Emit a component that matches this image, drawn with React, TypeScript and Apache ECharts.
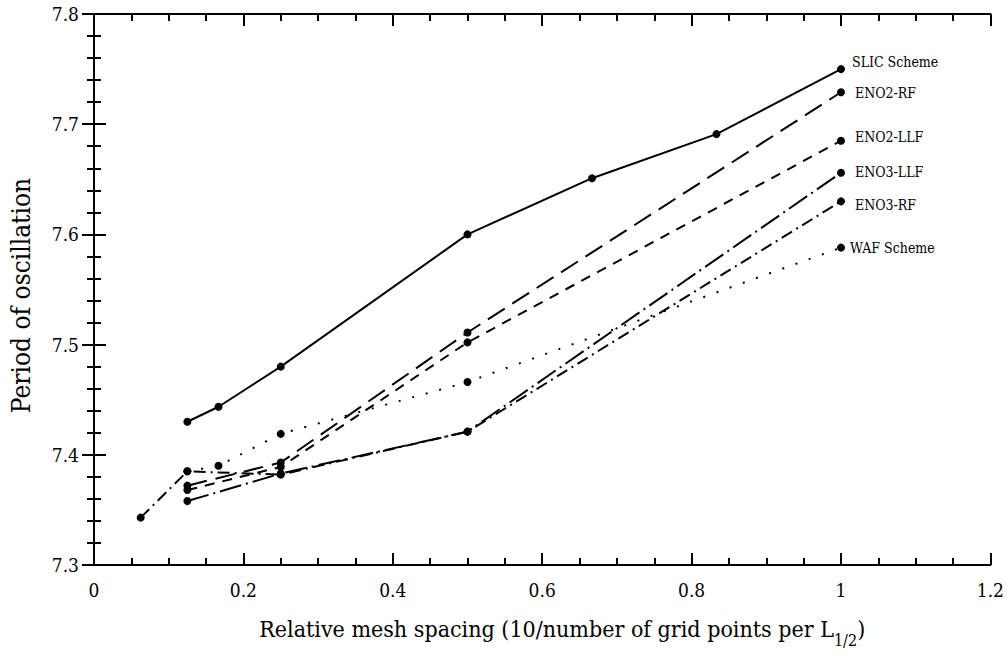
import React, { useEffect, useRef } from "react";
import * as echarts from "echarts";

const FONT = "DejaVu Serif Condensed, DejaVu Serif, serif";

const seriesNames = ["SLIC Scheme", "ENO2-RF", "ENO2-LLF", "ENO3-LLF", "ENO3-RF", "WAF Scheme"];

const slic: [number, number][] = [
  [0.125, 7.43], [0.1667, 7.4436], [0.25, 7.48], [0.5, 7.6], [0.6667, 7.651], [0.8333, 7.691], [1.0, 7.75],
];
const eno2rf: [number, number][] = [
  [0.125, 7.372], [0.25, 7.393], [0.5, 7.511], [1.0, 7.729],
];
const eno2llf: [number, number][] = [
  [0.125, 7.368], [0.25, 7.389], [0.5, 7.502], [1.0, 7.685],
];
const eno3llf: [number, number][] = [
  [0.125, 7.358], [0.25, 7.383], [0.5, 7.421], [1.0, 7.656],
];
const eno3rf: [number, number][] = [
  [0.0625, 7.343], [0.125, 7.385], [0.25, 7.382], [0.5, 7.421], [1.0, 7.63],
];
const waf: [number, number][] = [
  [0.125, 7.385], [0.1667, 7.39], [0.25, 7.419], [0.5, 7.466], [1.0, 7.588],
];

const seriesData = [slic, eno2rf, eno2llf, eno3llf, eno3rf, waf];
const dashes: any[] = ["solid", [20, 9], [10, 8], [22, 5, 2, 5], [12, 5, 2, 5], [2, 12]];
const labelOffsets: [number, number][] = [[0, -7], [3, 1], [3, -4], [3, -1], [3, 4], [-2, 0]];

const xTicks = [0, 1.2, 0.2];
const yTicks = [7.3, 7.8, 0.1];

export default function App() {
  const ref = useRef<HTMLDivElement>(null);
  useEffect(() => {
    const chart = echarts.init(ref.current!, null, { renderer: "svg" });
    const axisLine = { show: true, lineStyle: { color: "#000", width: 2 } };
    const tick = { show: true, inside: true, length: 12, lineStyle: { color: "#000", width: 2 } };
    const minorTick = { show: true, splitNumber: 4, length: 7, lineStyle: { color: "#000", width: 2 } };
    const minorTickY = { ...minorTick, splitNumber: 5 };
    const label = { color: "#000", fontFamily: FONT, fontSize: 19 };
    chart.setOption({
      animation: false,
      backgroundColor: "#fff",
      textStyle: { fontFamily: FONT },
      grid: { left: 92, right: 14, top: 14, bottom: 93, containLabel: false },
      xAxis: [
        {
          type: "value",
          min: xTicks[0], max: xTicks[1], interval: xTicks[2],
          axisLine, axisTick: tick, minorTick,
          splitLine: { show: false },
          axisLabel: { ...label, margin: 15 },
          name: "{a|Relative mesh spacing (10/number of grid points per L}{b|1/2}{a|)}",
          nameLocation: "middle",
          nameGap: 45,
          nameTextStyle: {
            fontFamily: FONT,
            padding: [0, 0, 0, 40],
            rich: {
              a: { fontFamily: FONT, fontSize: 23, color: "#000" },
              b: { fontFamily: FONT, fontSize: 16, color: "#000", padding: [22, 0, 0, 0] },
            },
          },
        },
        {
          type: "value", position: "top",
          min: xTicks[0], max: xTicks[1], interval: xTicks[2],
          axisLine, axisTick: tick, minorTick,
          splitLine: { show: false }, axisLabel: { show: false },
        },
      ],
      yAxis: [
        {
          type: "value",
          min: yTicks[0], max: yTicks[1], interval: yTicks[2],
          axisLine, axisTick: tick, minorTick: minorTickY,
          splitLine: { show: false },
          axisLabel: { ...label, margin: 15, formatter: (v: number) => String(Math.round(v * 10) / 10) },
          name: "Period of oscillation",
          nameLocation: "middle",
          nameGap: 60,
          nameTextStyle: { fontFamily: FONT, fontSize: 26, color: "#000", padding: [0, 12, 0, 0] },
        },
        {
          type: "value", position: "right",
          min: yTicks[0], max: yTicks[1], interval: yTicks[2],
          axisLine, axisTick: tick, minorTick: minorTickY,
          splitLine: { show: false }, axisLabel: { show: false },
        },
      ],
      series: seriesNames.map((name, i) => {
        const d = seriesData[i];
        return {
          type: "line",
          name,
          xAxisIndex: 0,
          yAxisIndex: 0,
          symbol: "circle",
          symbolSize: 8,
          showSymbol: true,
          itemStyle: { color: "#000" },
          lineStyle: { color: "#000", width: 2, type: dashes[i], cap: "butt" },
          data: d.map((p, j) =>
            j === d.length - 1
              ? {
                  value: p,
                  label: {
                    show: true,
                    position: "right",
                    distance: 7,
                    offset: labelOffsets[i],
                    formatter: name,
                    fontFamily: FONT,
                    fontSize: 14,
                    color: "#000",
                  },
                }
              : p
          ),
        };
      }),
    });
    return () => chart.dispose();
  }, []);
  return (
    <div
      ref={ref}
      style={{ position: "fixed", left: 0, top: 0, width: 1007, height: 658 }}
    />
  );
}
